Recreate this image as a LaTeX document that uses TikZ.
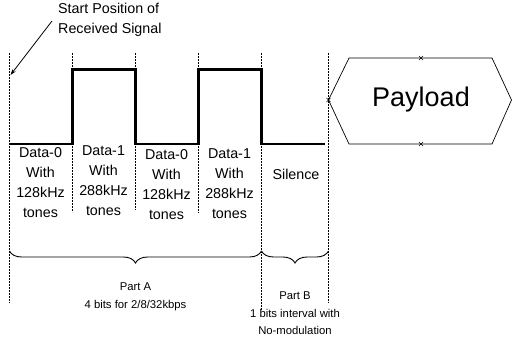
\documentclass[tikz,border=0pt]{standalone}
\usepackage{fontspec}
\setmainfont{Liberation Sans}
\usetikzlibrary{decorations.pathreplacing,arrows.meta}
\begin{document}
\begin{tikzpicture}[x=1pt,y=-1pt,
  guide/.style={line width=0.6pt,dash pattern=on 1.6pt off 1.4pt},
  signal/.style={line width=2.8pt,line join=miter},
  coltext/.style={align=center,font=\fontsize{14.3}{20}\selectfont,inner sep=0pt},
  smalltext/.style={align=center,font=\fontsize{11.3}{17.5}\selectfont,inner sep=0pt},
  bracestyle/.style={decorate,decoration={brace,mirror,amplitude=12pt},line width=0.9pt},
  tick/.style={line width=0.5pt}]
\useasboundingbox (0,0) rectangle (513,345);
% guide lines
\draw[guide] (9.5,53) -- (9.5,303);
\draw[guide] (72.5,53) -- (72.5,212);
\draw[guide] (135.5,53) -- (135.5,210);
\draw[guide] (198.5,53) -- (198.5,213);
\draw[guide] (261.5,53) -- (261.5,310);
\draw[guide] (328.5,53) -- (328.5,303);
% signal
\draw[signal] (9,144) -- (72.5,144) -- (72.5,69.5) -- (135.5,69.5) -- (135.5,144)
  -- (198.5,144) -- (198.5,69.5) -- (261.5,69.5) -- (261.5,144) -- (325,144);
% title and arrow
\node[anchor=north west,align=left,font=\fontsize{14.3}{20}\selectfont,inner sep=0pt] (title) at (58,3) {Start Position of\\Received Signal};
\coordinate (start) at (10.5,75);
\draw[line width=0.8pt,-{Stealth[length=6pt,width=4pt]}] (52,21) -- (start);
% column texts
\node[coltext,anchor=north] (c1) at (40.5,147) {Data-0\\With\\128kHz\\tones};
\node[coltext,anchor=north] (c2) at (103.5,145) {Data-1\\With\\288kHz\\tones};
\node[coltext,anchor=north] (c3) at (166.5,149) {Data-0\\With\\128kHz\\tones};
\node[coltext,anchor=north] (c4) at (229.5,148) {Data-1\\With\\288kHz\\tones};
\node[coltext] (sil) at (296,174) {Silence};
% payload
\node[font=\fontsize{27}{30}\selectfont,inner sep=0pt] (payload) at (421,100) {Payload};
\draw[line width=0.7pt] (328.5,100) -- (349,58) -- (492,58) -- (511.5,100) -- (492,144) -- (349,144) -- cycle;
\foreach \p in {(421,58),(421,144),(328.5,100)}{
  \draw[tick] \p ++(-2,-2) -- ++(4,4);
  \draw[tick] \p ++(-2,2) -- ++(4,-4);
}
% braces
\draw[bracestyle] (9.5,251) -- (261.5,251) coordinate[pos=0.5] (bA);
\draw[bracestyle] (261.5,251) -- (328.5,251) coordinate[pos=0.5] (bB);
\node[smalltext,anchor=north] (partA) at (135.5,283) {Part A\\4 bits for 2/8/32kbps};
\node[smalltext,anchor=north] (partB) at (295,292) {Part B\\1 bits interval with\\No-modulation};
\end{tikzpicture}
\end{document}
